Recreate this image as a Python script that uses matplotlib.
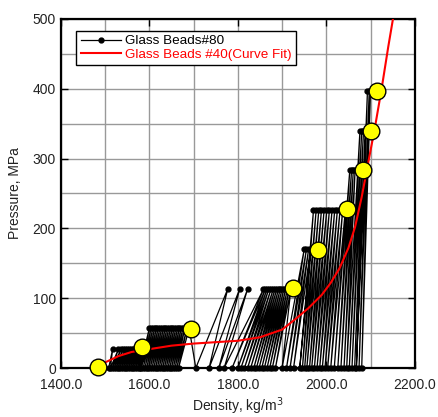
import numpy as np
import matplotlib.pyplot as plt
from matplotlib.ticker import MultipleLocator

plt.rcParams['font.family'] = ['Liberation Sans', 'DejaVu Sans']

# Glass Beads#80 loading cycles: each cycle goes (bottom, 0) -> (top, level)
levels = [27, 57, 113, 170, 226, 283, 340, 397]
tops = [
    [1517, 1530, 1536, 1541, 1546, 1550, 1554, 1558, 1562, 1566, 1570, 1574, 1578, 1582,
     1586, 1590, 1594, 1598],
    [1600, 1604, 1608, 1612, 1616, 1620, 1624, 1628, 1632, 1636, 1640, 1644, 1648, 1652,
     1656, 1660, 1664, 1668, 1672, 1676, 1680, 1685, 1690],
    [1777, 1804, 1822, 1858, 1862, 1866, 1870, 1875, 1880, 1884, 1888, 1892, 1896, 1900,
     1904, 1908, 1912, 1916, 1920],
    [1950, 1955, 1960, 1965],
    [1971, 1977, 1983, 1989, 1995, 2001, 2007, 2013, 2019, 2025, 2031, 2037, 2043],
    [2053, 2057, 2061, 2065],
    [2076, 2080, 2084, 2088],
    [2093, 2097, 2100],
]
bottoms = [
    [1508, 1512, 1516, 1520, 1524, 1528, 1532, 1536, 1540, 1544, 1548, 1552, 1556, 1560,
     1564, 1568, 1572, 1576],
    [1578, 1582, 1586, 1590, 1594, 1598, 1602, 1606, 1610, 1614, 1618, 1622, 1626, 1630,
     1634, 1638, 1642, 1646, 1650, 1654, 1658, 1662, 1666],
    [1705, 1735, 1757, 1769, 1787, 1800, 1807, 1815, 1822, 1829, 1836, 1842, 1848, 1854,
     1860, 1866, 1872, 1878, 1885],
    [1900, 1910, 1918, 1926],
    [1940, 1946, 1951, 1956, 1962, 1967, 1973, 1979, 1985, 1991, 1997, 2003, 2010],
    [2018, 2026, 2033, 2040],
    [2046, 2052, 2058, 2064],
    [2068, 2074, 2080],
]

# curve fit (Glass Beads #40)
fit_rho = [1485, 1500, 1530, 1560, 1600, 1650, 1700, 1750, 1800, 1850, 1900, 1930, 1960,
           1990, 2010, 2030, 2050, 2065, 2080, 2095, 2110, 2125, 2140, 2152]
fit_p = [0, 8, 17, 23, 27, 32, 35, 37, 39, 44, 55, 70, 86, 105, 122, 143, 172, 202, 245,
         295, 345, 400, 460, 505]

# highlighted points
pt_rho = [1483, 1584, 1694, 1924, 1982, 2047, 2083, 2101, 2115]
pt_p = [2, 30, 56, 115, 169, 228, 284, 340, 397]

rho, pres = [], []
for lev, tt, bb in zip(levels, tops, bottoms):
    for b, t in zip(bb, tt):
        rho += [b, t]
        pres += [0, lev]

fig = plt.figure(figsize=(4.38, 4.17), dpi=100)
ax = fig.add_axes([0.139, 0.1175, 0.808, 0.837])

ax.plot(rho, pres, '-o', color='black', lw=0.9, ms=3.5, label='Glass Beads#80', zorder=3,
        clip_on=False)
ax.plot(fit_rho, fit_p, '-', color='red', lw=1.5, label='Glass Beads #40(Curve Fit)', zorder=4)
ax.plot(pt_rho, pt_p, 'o', ms=12, mfc='yellow', mec='black', mew=1, zorder=5, clip_on=False)

ax.set_xlim(1400, 2200)
ax.set_ylim(0, 500)
ax.xaxis.set_major_locator(MultipleLocator(200))
ax.xaxis.set_minor_locator(MultipleLocator(100))
ax.yaxis.set_major_locator(MultipleLocator(100))
ax.yaxis.set_minor_locator(MultipleLocator(50))
ax.xaxis.set_major_formatter(plt.FormatStrFormatter('%.1f'))
ax.grid(which='both', color='#999999', lw=1)
ax.set_axisbelow(True)
ax.tick_params(which='major', direction='in', length=5, width=1, top=True, right=True,
               labelsize=10, colors='black', labelcolor='#222222')
ax.tick_params(axis='x', which='major', pad=7)
ax.tick_params(which='minor', length=0)
for s in ax.spines.values():
    s.set_linewidth(1.6)

ax.set_xlabel('Density, kg/m$^3$', fontsize=10, color='#222222', labelpad=3)
ax.set_ylabel('Pressure, MPa', fontsize=10, color='#222222', labelpad=8)

leg = ax.legend(loc='upper left', bbox_to_anchor=(0.025, 0.985), fontsize=9.7, frameon=True,
                fancybox=False, edgecolor='black', framealpha=1, handlelength=3,
                borderpad=0.3, labelspacing=0.1, handletextpad=0.3)
leg.get_frame().set_linewidth(1)
leg.get_texts()[1].set_color('red')

fig.savefig('out.png', dpi=100)
